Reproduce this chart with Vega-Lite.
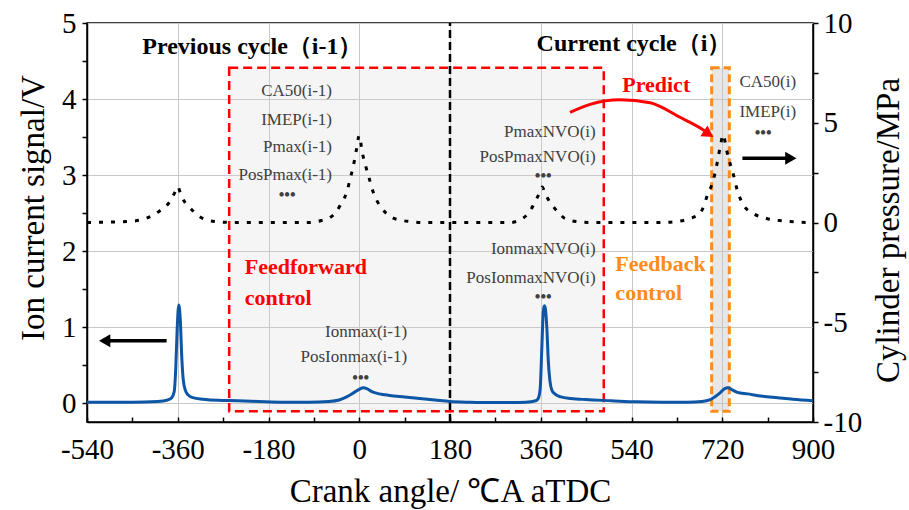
{
  "$schema": "https://vega.github.io/schema/vega-lite/v6.json",
  "width": 726,
  "height": 399,
  "autosize": {"type": "none"},
  "padding": {"left": 87, "top": 23, "right": 96, "bottom": 88},
  "background": "white",
  "config": {
    "font": "Liberation Serif",
    "view": {"stroke": "black", "strokeWidth": 1.5},
    "axis": {
      "labelFont": "Liberation Serif", "titleFont": "Liberation Serif",
      "labelFontSize": 29, "titleFontSize": 33, "titleFontWeight": "normal",
      "labelColor": "black", "titleColor": "black",
      "domainColor": "black", "domainWidth": 1.5,
      "tickColor": "black", "tickWidth": 1.5,
      "gridColor": "#c8c8c8", "gridWidth": 1,
      "labelFlush": false, "labelOverlap": false
    }
  },
  "datasets": {
    "ion": [
      {"x": -540, "y": 0.01}, {"x": -500, "y": 0.01}, {"x": -450, "y": 0.01}, {"x": -400, "y": 0.02},
      {"x": -380, "y": 0.04}, {"x": -372, "y": 0.07}, {"x": -367, "y": 0.15}, {"x": -364, "y": 0.45},
      {"x": -361, "y": 1.0}, {"x": -358, "y": 1.29}, {"x": -355, "y": 1.1}, {"x": -352, "y": 0.6},
      {"x": -349, "y": 0.3}, {"x": -345, "y": 0.17}, {"x": -340, "y": 0.11}, {"x": -330, "y": 0.07},
      {"x": -310, "y": 0.05}, {"x": -280, "y": 0.035}, {"x": -240, "y": 0.03}, {"x": -200, "y": 0.02},
      {"x": -150, "y": 0.01}, {"x": -100, "y": 0.01}, {"x": -60, "y": 0.02}, {"x": -40, "y": 0.04},
      {"x": -25, "y": 0.08}, {"x": -10, "y": 0.14}, {"x": 0, "y": 0.18}, {"x": 8, "y": 0.2},
      {"x": 15, "y": 0.19}, {"x": 25, "y": 0.15}, {"x": 40, "y": 0.12}, {"x": 60, "y": 0.1},
      {"x": 90, "y": 0.08}, {"x": 120, "y": 0.06}, {"x": 150, "y": 0.04}, {"x": 180, "y": 0.02},
      {"x": 220, "y": 0.01}, {"x": 260, "y": 0.005}, {"x": 300, "y": 0.005}, {"x": 330, "y": 0.01},
      {"x": 350, "y": 0.03}, {"x": 355, "y": 0.06}, {"x": 359, "y": 0.2}, {"x": 362, "y": 0.7},
      {"x": 365, "y": 1.2}, {"x": 367, "y": 1.28}, {"x": 369, "y": 1.25}, {"x": 372, "y": 1.0},
      {"x": 375, "y": 0.55}, {"x": 378, "y": 0.3}, {"x": 382, "y": 0.17}, {"x": 388, "y": 0.12},
      {"x": 400, "y": 0.08}, {"x": 420, "y": 0.06}, {"x": 450, "y": 0.045}, {"x": 500, "y": 0.03},
      {"x": 550, "y": 0.015}, {"x": 600, "y": 0.01}, {"x": 650, "y": 0.01}, {"x": 680, "y": 0.02},
      {"x": 695, "y": 0.04}, {"x": 705, "y": 0.08}, {"x": 715, "y": 0.13}, {"x": 725, "y": 0.19},
      {"x": 731, "y": 0.2}, {"x": 738, "y": 0.18}, {"x": 750, "y": 0.14}, {"x": 770, "y": 0.12},
      {"x": 800, "y": 0.09}, {"x": 830, "y": 0.07}, {"x": 860, "y": 0.05}, {"x": 900, "y": 0.03}
    ],
    "pressure": [
      {"x": -540, "p": 0.0}, {"x": -460, "p": 0.05}, {"x": -430, "p": 0.15}, {"x": -410, "p": 0.35},
      {"x": -395, "p": 0.6}, {"x": -382, "p": 0.85}, {"x": -372, "p": 1.2}, {"x": -365, "p": 1.55},
      {"x": -360, "p": 1.8}, {"x": -355, "p": 1.5}, {"x": -348, "p": 1.1}, {"x": -336, "p": 0.75},
      {"x": -320, "p": 0.35}, {"x": -305, "p": 0.15}, {"x": -285, "p": 0.05}, {"x": -250, "p": 0.0},
      {"x": -100, "p": 0.0}, {"x": -75, "p": 0.1}, {"x": -58, "p": 0.25}, {"x": -45, "p": 0.55},
      {"x": -38, "p": 0.85}, {"x": -30, "p": 1.2}, {"x": -25, "p": 1.5}, {"x": -18, "p": 2.2},
      {"x": -12, "p": 2.8}, {"x": -6, "p": 3.6}, {"x": 0, "p": 4.35}, {"x": 6, "p": 3.5},
      {"x": 12, "p": 2.9}, {"x": 21, "p": 2.1}, {"x": 28, "p": 1.5}, {"x": 35, "p": 1.1},
      {"x": 45, "p": 0.7}, {"x": 54, "p": 0.45}, {"x": 65, "p": 0.25}, {"x": 81, "p": 0.12},
      {"x": 100, "p": 0.05}, {"x": 130, "p": 0.0}, {"x": 300, "p": 0.0}, {"x": 320, "p": 0.15},
      {"x": 335, "p": 0.45}, {"x": 345, "p": 0.85}, {"x": 352, "p": 1.2}, {"x": 358, "p": 1.5},
      {"x": 363, "p": 1.78}, {"x": 368, "p": 1.5}, {"x": 375, "p": 1.15}, {"x": 385, "p": 0.8},
      {"x": 395, "p": 0.5}, {"x": 408, "p": 0.2}, {"x": 430, "p": 0.05}, {"x": 460, "p": 0.0},
      {"x": 600, "p": 0.0}, {"x": 630, "p": 0.05}, {"x": 656, "p": 0.2}, {"x": 676, "p": 0.46},
      {"x": 692, "p": 1.46}, {"x": 702, "p": 2.1}, {"x": 710, "p": 3.0}, {"x": 716, "p": 3.8},
      {"x": 722, "p": 4.4}, {"x": 728, "p": 3.7}, {"x": 735, "p": 3.0}, {"x": 741, "p": 2.5},
      {"x": 750, "p": 1.6}, {"x": 762, "p": 0.88}, {"x": 781, "p": 0.46}, {"x": 808, "p": 0.2},
      {"x": 840, "p": 0.08}, {"x": 870, "p": 0.02}, {"x": 900, "p": 0.0}
    ],
    "redbox": [{"x": -258, "x2": 485, "y": -0.11, "y2": 4.41}],
    "orangebox": [{"x": 699, "x2": 734, "y": -0.11, "y2": 4.41}],
    "divider": [{"x": 180, "y": -0.25, "y2": 5}],
    "notesRight": [
      {"x": -54, "y": 4.1, "t": "CA50(i-1)"},
      {"x": -54, "y": 3.73, "t": "IMEP(i-1)"},
      {"x": -54, "y": 3.37, "t": "Pmax(i-1)"},
      {"x": -54, "y": 3.0, "t": "PosPmax(i-1)"},
      {"x": 95, "y": 0.94, "t": "Ionmax(i-1)"},
      {"x": 95, "y": 0.61, "t": "PosIonmax(i-1)"},
      {"x": 469, "y": 3.57, "t": "PmaxNVO(i)"},
      {"x": 469, "y": 3.24, "t": "PosPmaxNVO(i)"},
      {"x": 469, "y": 2.02, "t": "IonmaxNVO(i)"},
      {"x": 469, "y": 1.65, "t": "PosIonmaxNVO(i)"}
    ],
    "notesLeft": [
      {"x": 754, "y": 4.23, "t": "CA50(i)"},
      {"x": 754, "y": 3.83, "t": "IMEP(i)"}
    ],
    "dots": [
      {"x": -143, "y": 2.74, "t": "•••"},
      {"x": 3, "y": 0.33, "t": "•••"},
      {"x": 365, "y": 2.99, "t": "•••"},
      {"x": 365, "y": 1.4, "t": "•••"},
      {"x": 801, "y": 3.55, "t": "•••"}
    ],
    "titles": [
      {"x": -212, "y": 4.69, "t": "Previous cycle（i-1）"},
      {"x": 545, "y": 4.73, "t": "Current cycle（i）"}
    ],
    "redLabels": [
      {"x": 589, "y": 4.18, "t": "Predict"},
      {"x": -227, "y": 1.79, "t": "Feedforward"},
      {"x": -227, "y": 1.38, "t": "control"}
    ],
    "orangeLabels": [
      {"x": 508, "y": 1.83, "t": "Feedback"},
      {"x": 508, "y": 1.45, "t": "control"}
    ],
    "redArrow": [
      {"x": 418, "y": 3.825}, {"x": 458, "y": 3.93}, {"x": 517, "y": 3.99},
      {"x": 577, "y": 3.95}, {"x": 636, "y": 3.76}, {"x": 676, "y": 3.62}, {"x": 690, "y": 3.56}
    ],
    "redHead": [{"x": 693, "y": 3.54}],
    "rightArrow": [{"x": 760, "y": 3.22}, {"x": 852, "y": 3.22}],
    "rightHead": [{"x": 856, "y": 3.22}],
    "leftArrow": [{"x": -382, "y": 0.82}, {"x": -500, "y": 0.82}],
    "leftHead": [{"x": -505, "y": 0.82}]
  },
  "encoding": {
    "x": {
      "field": "x", "type": "quantitative",
      "scale": {"domain": [-540, 900], "nice": false, "zero": false},
      "axis": {
        "title": "Crank angle/ ℃A aTDC",
        "values": [-540, -450, -360, -270, -180, -90, 0, 90, 180, 270, 360, 450, 540, 630, 720, 810, 900],
        "labelExpr": "datum.value % 180 === 0 ? '' + datum.value : ''",
        "gridOpacity": {"condition": {"test": "datum.value % 180 === 0", "value": 1}, "value": 0},
        "tickSize": -5,
        "labelPadding": 18,
        "titleY": 79,
        "titleBaseline": "alphabetic"
      }
    }
  },
  "layer": [
    {
      "encoding": {
        "y": {
          "field": "y", "type": "quantitative",
          "scale": {"domain": [-0.25, 5], "nice": false, "zero": false},
          "axis": {
            "title": "Ion current signal/V",
            "values": [0, 0.5, 1, 1.5, 2, 2.5, 3, 3.5, 4, 4.5, 5],
            "labelExpr": "datum.value % 1 === 0 ? '' + datum.value : ''",
            "gridOpacity": {"condition": {"test": "datum.value % 1 === 0", "value": 1}, "value": 0},
            "tickSize": 5,
            "labelPadding": 6,
            "titleAngle": 270,
            "titleX": -44,
            "titleY": 184.5,
            "titleAlign": "center",
            "titleBaseline": "alphabetic"
          }
        }
      },
      "layer": [
        {
          "data": {"name": "redbox"},
          "mark": {"type": "rect", "fill": "#d0d0d0", "fillOpacity": 0.22, "stroke": "#ff0000", "strokeWidth": 2.5, "strokeDash": [9, 5]},
          "encoding": {"x2": {"field": "x2"}, "y2": {"field": "y2"}}
        },
        {
          "data": {"name": "orangebox"},
          "mark": {"type": "rect", "fill": "#c4c4c4", "fillOpacity": 0.4, "stroke": "#ff8c1a", "strokeWidth": 3, "strokeDash": [8, 4]},
          "encoding": {"x2": {"field": "x2"}, "y2": {"field": "y2"}}
        },
        {
          "data": {"name": "divider"},
          "mark": {"type": "rule", "color": "black", "strokeWidth": 2.5, "strokeDash": [8, 4]},
          "encoding": {"y2": {"field": "y2"}}
        },
        {
          "data": {"name": "ion"},
          "mark": {"type": "line", "color": "#0d56a6", "strokeWidth": 3, "interpolate": "monotone"}
        },
        {
          "data": {"name": "notesRight"},
          "mark": {"type": "text", "align": "right", "baseline": "middle", "fontSize": 17, "color": "#404040", "font": "Liberation Serif"},
          "encoding": {"text": {"field": "t"}}
        },
        {
          "data": {"name": "notesLeft"},
          "mark": {"type": "text", "align": "left", "baseline": "middle", "fontSize": 17, "color": "#404040", "font": "Liberation Serif"},
          "encoding": {"text": {"field": "t"}}
        },
        {
          "data": {"name": "dots"},
          "mark": {"type": "text", "align": "center", "baseline": "middle", "fontSize": 16, "fontWeight": "bold", "color": "#404040", "font": "Liberation Serif"},
          "encoding": {"text": {"field": "t"}}
        },
        {
          "data": {"name": "titles"},
          "mark": {"type": "text", "align": "center", "baseline": "middle", "fontSize": 24, "fontWeight": "bold", "color": "black", "font": "Liberation Serif"},
          "encoding": {"text": {"field": "t"}}
        },
        {
          "data": {"name": "redLabels"},
          "transform": [{"filter": "datum.t === 'Predict'"}],
          "mark": {"type": "text", "align": "center", "baseline": "middle", "fontSize": 22, "fontWeight": "bold", "color": "#ff0000", "font": "Liberation Serif"},
          "encoding": {"text": {"field": "t"}}
        },
        {
          "data": {"name": "redLabels"},
          "transform": [{"filter": "datum.t !== 'Predict'"}],
          "mark": {"type": "text", "align": "left", "baseline": "middle", "fontSize": 22, "fontWeight": "bold", "color": "#ff0000", "font": "Liberation Serif"},
          "encoding": {"text": {"field": "t"}}
        },
        {
          "data": {"name": "orangeLabels"},
          "mark": {"type": "text", "align": "left", "baseline": "middle", "fontSize": 22, "fontWeight": "bold", "color": "#ff8c1a", "font": "Liberation Serif"},
          "encoding": {"text": {"field": "t"}}
        },
        {
          "data": {"name": "redArrow"},
          "mark": {"type": "line", "color": "#ff0000", "strokeWidth": 3, "interpolate": "monotone"}
        },
        {
          "data": {"name": "redHead"},
          "mark": {"type": "point", "shape": "triangle-right", "filled": true, "color": "#ff0000", "opacity": 1, "size": 170, "angle": 33}
        },
        {
          "data": {"name": "rightArrow"},
          "mark": {"type": "line", "color": "black", "strokeWidth": 3.5}
        },
        {
          "data": {"name": "rightHead"},
          "mark": {"type": "point", "shape": "triangle-right", "filled": true, "color": "black", "opacity": 1, "size": 170}
        },
        {
          "data": {"name": "leftArrow"},
          "mark": {"type": "line", "color": "black", "strokeWidth": 3.5}
        },
        {
          "data": {"name": "leftHead"},
          "mark": {"type": "point", "shape": "triangle-left", "filled": true, "color": "black", "opacity": 1, "size": 170}
        }
      ]
    },
    {
      "data": {"name": "pressure"},
      "mark": {"type": "line", "color": "black", "strokeWidth": 3, "strokeDash": [4, 8], "interpolate": "monotone"},
      "encoding": {
        "y": {
          "field": "p", "type": "quantitative",
          "scale": {"domain": [-10, 10], "nice": false, "zero": false},
          "axis": {
            "orient": "right",
            "title": "Cylinder pressure/MPa",
            "values": [-10, -7.5, -5, -2.5, 0, 2.5, 5, 7.5, 10],
            "labelExpr": "datum.value % 5 === 0 ? '' + datum.value : ''",
            "grid": false,
            "tickSize": 5,
            "labelPadding": 5,
            "titleAngle": 270,
            "titleX": 85,
            "titleY": 207,
            "titleAlign": "center",
            "titleBaseline": "alphabetic"
          }
        }
      }
    }
  ],
  "resolve": {"scale": {"y": "independent"}}
}
